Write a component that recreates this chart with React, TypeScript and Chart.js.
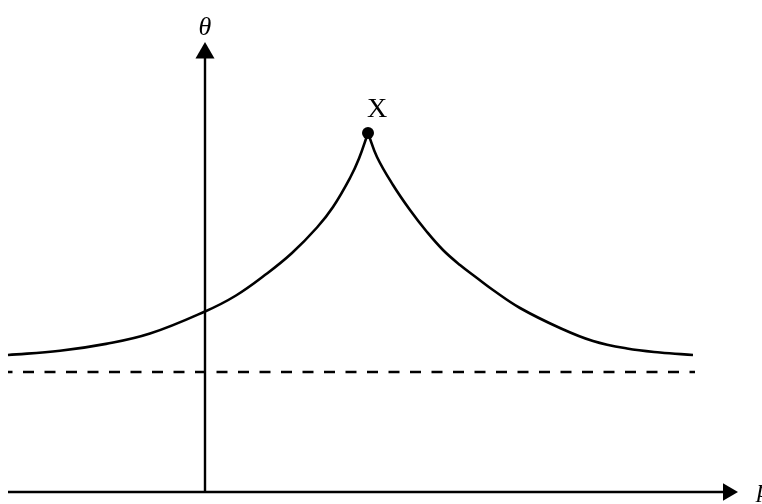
import React, { useEffect, useRef } from "react";
import { Chart, registerables } from "chart.js";

Chart.register(...registerables);

// Rising branch (left of the cusp X)
const leftP = [-3.94, -2.9, -1.98, -1.1, 0, 0.62, 1.24, 1.74, 2.24, 2.56, 2.9, 3.08, 3.26];
const leftTheta = [2.74, 2.824, 2.962, 3.168, 3.61, 3.93, 4.37, 4.78, 5.29, 5.7, 6.28, 6.67, 7.18];
// Falling branch (right of the cusp X)
const rightP = [3.26, 3.44, 3.76, 4.1, 4.44, 4.76, 5.1, 5.44, 5.76, 6.3, 7.1, 7.76, 8.44, 9.1, 9.76];
const rightTheta = [7.18, 6.7, 6.14, 5.64, 5.2, 4.84, 4.54, 4.28, 4.04, 3.68, 3.28, 3.02, 2.87, 2.79, 2.74];
// Peak point X
const peakP = [3.26];
const peakTheta = [7.18];
const peakLabels = ["X"];
// Dashed asymptote
const dashedP = [-3.94, 9.8];
const dashedTheta = [2.4, 2.4];
// Axes
const pAxisP = [-3.94, 10.46];
const pAxisTheta = [0, 0];
const thetaAxisP = [0, 0];
const thetaAxisTheta = [0, 8.78];
const axisTitles = ["p", "θ"];
// View range
const pRange = [-4.1, 11.14];
const thetaRange = [-0.24, 9.84];

const zip = (xs: number[], ys: number[]) => xs.map((x, i) => ({ x, y: ys[i] }));

const labelPlugin = {
  id: "labels",
  afterDatasetsDraw(chart: any) {
    const { ctx, scales } = chart;
    const xs = scales.x;
    const ys = scales.y;
    ctx.save();
    ctx.fillStyle = "#000";
    ctx.font = "italic 26px 'Liberation Serif', 'Times New Roman', serif";
    ctx.textAlign = "center";
    ctx.textBaseline = "alphabetic";
    const tx = xs.getPixelForValue(thetaAxisP[1]);
    const ty = ys.getPixelForValue(thetaAxisTheta[1]);
    ctx.fillText(axisTitles[1], tx, ty - 18);
    ctx.textAlign = "left";
    const px = xs.getPixelForValue(pAxisP[1]);
    const py = ys.getPixelForValue(pAxisTheta[1]);
    ctx.fillText(axisTitles[0], px + 29, py + 5);
    ctx.font = "28px 'Liberation Serif', 'Times New Roman', serif";
    ctx.textAlign = "center";
    const kx = xs.getPixelForValue(peakP[0]);
    const ky = ys.getPixelForValue(peakTheta[0]);
    ctx.fillText(peakLabels[0], kx + 9, ky - 16);
    ctx.restore();
  },
};

export default function App() {
  const ref = useRef<HTMLCanvasElement | null>(null);
  useEffect(() => {
    if (!ref.current) return;
    const black = "#000000";
    const chart = new Chart(ref.current, {
      type: "scatter",
      data: {
        datasets: [
          {
            data: zip(pAxisP, pAxisTheta),
            showLine: true,
            borderColor: black,
            backgroundColor: black,
            borderWidth: 2.6,
            pointRadius: [0, 10],
            pointStyle: "triangle",
            pointRotation: 90,
            pointBorderWidth: 0,
            clip: false,
          } as any,
          {
            data: zip(thetaAxisP, thetaAxisTheta),
            showLine: true,
            borderColor: black,
            backgroundColor: black,
            borderWidth: 2.4,
            pointRadius: [0, 11],
            pointStyle: "triangle",
            pointRotation: 0,
            pointBorderWidth: 0,
            clip: false,
          } as any,
          {
            data: zip(dashedP, dashedTheta),
            showLine: true,
            borderColor: black,
            borderWidth: 2.4,
            borderDash: [11, 10.5],
            borderDashOffset: 6.5,
            pointRadius: 0,
          } as any,
          {
            data: zip(leftP, leftTheta),
            showLine: true,
            borderColor: black,
            borderWidth: 2.6,
            tension: 0.4,
            pointRadius: 0,
          } as any,
          {
            data: zip(rightP, rightTheta),
            showLine: true,
            borderColor: black,
            borderWidth: 2.6,
            tension: 0.4,
            pointRadius: 0,
          } as any,
          {
            data: zip(peakP, peakTheta),
            showLine: false,
            backgroundColor: black,
            borderColor: black,
            pointRadius: 6,
            pointBorderWidth: 0,
          } as any,
        ],
      },
      options: {
        responsive: false,
        animation: false,
        devicePixelRatio: 1,
        layout: { padding: 0, autoPadding: false },
        plugins: {
          legend: { display: false },
          tooltip: { enabled: false },
        },
        events: [],
        scales: {
          x: { type: "linear", min: pRange[0], max: pRange[1], display: false },
          y: { type: "linear", min: thetaRange[0], max: thetaRange[1], display: false },
        },
      } as any,
      plugins: [labelPlugin],
    });
    return () => chart.destroy();
  }, []);
  return (
    <div style={{ position: "fixed", left: 0, top: 0, width: 762, height: 504, background: "#fff" }}>
      <canvas ref={ref} width={762} height={504} style={{ display: "block" }} />
    </div>
  );
}
